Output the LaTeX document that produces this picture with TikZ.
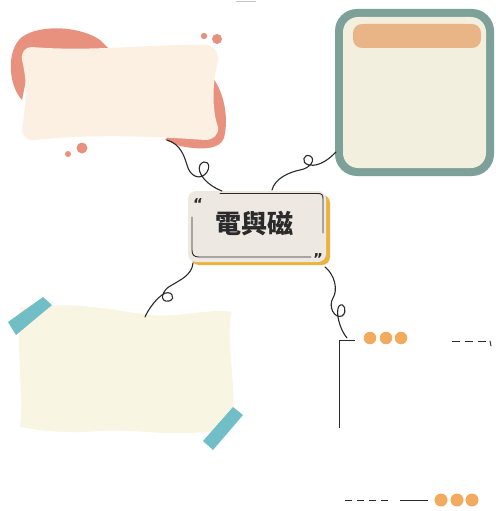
\documentclass[tikz,border=0pt]{standalone}
\usepackage{fontspec}
\newfontfamily\cjk{Noto Sans CJK TC}
\newfontfamily\qfont{DejaVu Sans}
\definecolor{salmon}{HTML}{E9917F}
\definecolor{creamA}{HTML}{FCF0E2}
\definecolor{tealB}{HTML}{7DA099}
\definecolor{creamB}{HTML}{F3EFDE}
\definecolor{barO}{HTML}{E9B486}
\definecolor{ctrF}{HTML}{EDE9E2}
\definecolor{ctrS}{HTML}{EDB13E}
\definecolor{noteF}{HTML}{F8F5E3}
\definecolor{tape}{HTML}{72BEC7}
\definecolor{dotO}{HTML}{F2AA5E}
\definecolor{ink}{HTML}{2A2A2A}
\tikzset{
  curl/.style={draw=ink, line width=1.1pt, line cap=round},
  frameline/.style={draw=ink, line width=0.9pt, line cap=round},
  dotnode/.style={circle, fill=dotO, inner sep=0pt, minimum size=12.5pt},
  quote/.style={font=\qfont\bfseries\fontsize{15}{15}\selectfont, text=ink, inner sep=0pt},
}
\begin{document}
\begin{tikzpicture}[x=1pt,y=-1pt]
\useasboundingbox (0,0) rectangle (495,511);
\fill[white] (0,0) rectangle (495,511);

% faint mark at top
\draw[gray!45, line width=1pt] (236,2) -- (256,2);

% ---------- top-left card ----------
\fill[salmon] (22,100) .. controls (8,85) and (6,50) .. (22,37)
  .. controls (40,24) and (80,26) .. (100,40) -- (110,50) -- (30,60) -- cycle;
\fill[salmon] (205,70) .. controls (222,82) and (230,115) .. (224,138)
  .. controls (220,150) and (200,150) .. (180,146) -- (165,140) -- (200,100) -- cycle;
\fill[salmon] (204,36) circle (3.2);
\fill[salmon] (217,39) circle (5);
\fill[salmon] (82,148) circle (5.5);
\fill[salmon] (68,154) circle (3);
\fill[creamA] (32,47) .. controls (90,52) and (150,44) .. (205,45)
  .. controls (213,45) and (218,50) .. (218,60)
  .. controls (212,85) and (212,110) .. (218,127)
  .. controls (219,135) and (213,140) .. (205,140)
  .. controls (150,136) and (90,134) .. (35,140)
  .. controls (26,141) and (22,136) .. (22,128)
  .. controls (27,100) and (27,80) .. (22,60)
  .. controls (21,52) and (25,47) .. (32,47) -- cycle;
\node (tl) at (120,93) {};
\coordinate (tlout) at (167,140);

% ---------- top-right card ----------
\fill[tealB, rounded corners=22pt] (335,9) rectangle (494,176);
\fill[creamB, rounded corners=15pt] (343,17) rectangle (486,168);
\fill[barO, rounded corners=9pt] (353,24) rectangle (481,48);
\node (tr) at (414,92) {};
\coordinate (trin) at (336,152);

% ---------- centre node ----------
\fill[ctrS, rounded corners=8pt] (191,195) rectangle (330,265);
\node[fill=ctrF, rounded corners=8pt, minimum width=138pt, minimum height=71pt, inner sep=0pt]
  (ctr) at (257,226.5) {};
\node[font=\cjk\bfseries\fontsize{26}{26}\selectfont, text=ink] at (254,224) {電與磁};
\draw[frameline] (220,193.5) -- (318,193.5) .. controls (322,193.5) and (323,195) .. (323,199) -- (323,233);
\draw[frameline] (192,217) -- (192,250) .. controls (192,255) and (194,257) .. (199,257) -- (311,257);
\node[quote] at (198,204) {“};
\node[quote] at (318,259) {”};
\coordinate (ctrTL) at (222,191);
\coordinate (ctrTR) at (272,190);
\coordinate (ctrBL) at (193,263);
\coordinate (ctrBR) at (325,267);

% ---------- bottom-left note ----------
\fill[noteF] (20,308) .. controls (80,300) and (120,312) .. (150,315)
  .. controls (180,318) and (210,308) .. (231,312)
  .. controls (226,345) and (237,385) .. (232,427)
  .. controls (180,440) and (140,428) .. (100,431)
  .. controls (60,434) and (40,430) .. (20,427)
  .. controls (24,395) and (16,350) .. (20,308) -- cycle;
\fill[tape] (8,322) -- (43,297) -- (52,305) -- (16,335) -- cycle;
\fill[tape] (233,407) -- (243,415) -- (213,450) -- (203,441) -- cycle;
\node (bl) at (126,370) {};
\coordinate (blin) at (145,317);

% ---------- bottom-right bracket ----------
\coordinate (brk) at (339,340);
\coordinate (brkEnd) at (339,428);
\coordinate (brkH) at (355,340);
\coordinate (brin) at (347,338);
\draw[frameline, line cap=butt] (brkEnd) -- (brk) -- (brkH);
\node[dotnode] (d1) at (370,338) {};
\node[dotnode] (d2) at (386,338) {};
\node[dotnode] (d3) at (401,338) {};
\coordinate (dl1) at (452,341);
\coordinate (dl2) at (490,341);
\coordinate (dl3) at (491,346);
\draw[frameline, line cap=butt, dash pattern=on 8pt off 5pt] (dl1) -- (dl2);
\draw[frameline] (dl2) -- (dl3);

\coordinate (bl1) at (345,500);
\coordinate (bl2) at (392,500);
\coordinate (bl3) at (400,500);
\coordinate (bl4) at (428,500);
\draw[frameline, line cap=butt, dash pattern=on 7pt off 5pt] (bl1) -- (bl2);
\draw[frameline, line cap=butt] (bl3) -- (bl4);
\node[dotnode, minimum size=13pt] (e1) at (441,500) {};
\node[dotnode, minimum size=13pt] (e2) at (457,500) {};
\node[dotnode, minimum size=13pt] (e3) at (472,500) {};

% ---------- curly connectors ----------
\draw[curl] (tlout) .. controls (180,144) and (184,155) .. (187,165)
  .. controls (190,177) and (201,181) .. (207,172)
  .. controls (212,164) and (205,158) .. (200,165)
  .. controls (196,173) and (208,186) .. (ctrTL);
\draw[curl] (ctrTR) .. controls (275,178) and (290,172) .. (300,170)
  .. controls (311,168) and (316,159) .. (310,156)
  .. controls (304,153) and (300,163) .. (309,165)
  .. controls (320,167) and (330,158) .. (trin);
\draw[curl] (ctrBL) .. controls (192,275) and (180,280) .. (172,285)
  .. controls (161,290) and (159,303) .. (169,301)
  .. controls (177,299) and (171,288) .. (162,295)
  .. controls (155,300) and (148,310) .. (blin);
\draw[curl] (ctrBR) .. controls (335,275) and (338,290) .. (333,298)
  .. controls (328,306) and (334,319) .. (342,316)
  .. controls (348,312) and (344,301) .. (339,306)
  .. controls (335,312) and (340,330) .. (brin);
\end{tikzpicture}
\end{document}
